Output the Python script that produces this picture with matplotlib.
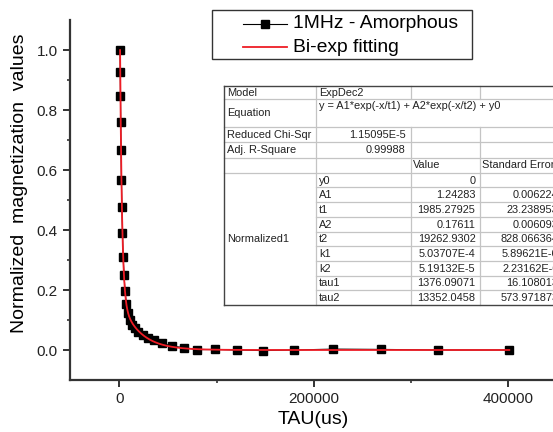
import numpy as np
import matplotlib
matplotlib.use("Agg")
import matplotlib.pyplot as plt
from matplotlib.patches import Rectangle

plt.rcParams['font.family'] = ['Liberation Sans', 'DejaVu Sans']

# ---- data ----
tau_us = [800, 980, 1190, 1460, 1780, 2170, 2650, 3240, 3960, 4840, 5910, 7220,
          8810, 10760, 13150, 16060, 19610, 23950, 29250, 35730, 43630, 53900,
          66500, 80200, 98700, 120700, 147500, 180000, 220000, 269000, 328000, 401000]
magnet = [1.000, 0.927, 0.847, 0.760, 0.666, 0.568, 0.477, 0.390, 0.310, 0.251,
          0.196, 0.155, 0.123, 0.100, 0.085, 0.072, 0.061, 0.050, 0.040, 0.032,
          0.023, 0.013, 0.008, 0.001, 0.002, 0.000, -0.002, 0.000, 0.003, 0.002,
          0.000, 0.000]

# fit parameters shown in the table
fit_y0, fit_A1, fit_t1, fit_A2, fit_t2 = 0.0, 1.24283, 1985.27925, 0.17611, 19262.9302

series_labels = ["1MHz - Amorphous", "Bi-exp fitting"]
x_ticks = [0, 200000, 400000]
y_ticks = [0.0, 0.2, 0.4, 0.6, 0.8, 1.0]

table_top = [("Model", "ExpDec2"),
             ("Equation", "y = A1*exp(-x/t1) + A2*exp(-x/t2) + y0"),
             ("Reduced Chi-Sqr", "1.15095E-5"),
             ("Adj. R-Square", "0.99988")]
param_names = ["y0", "A1", "t1", "A2", "t2", "k1", "k2", "tau1", "tau2"]
param_values = ["0", "1.24283", "1985.27925", "0.17611", "19262.9302",
                "5.03707E-4", "5.19132E-5", "1376.09071", "13352.0458"]
param_errors = ["0", "0.006224", "23.238953", "0.006093", "828.066364",
                "5.89621E-6", "2.23162E-6", "16.108013", "573.971873"]

# ---- figure ----
W, H = 553, 432
fig = plt.figure(figsize=(W / 100, H / 100), dpi=100)
ax = fig.add_axes([70 / W, 52 / H, 496 / W, 360 / H])

xf = np.linspace(min(tau_us), max(tau_us), 4000)
yf = fit_A1 * np.exp(-xf / fit_t1) + fit_A2 * np.exp(-xf / fit_t2) + fit_y0

ax.plot(tau_us, magnet, color='black', lw=0.8, marker='s', ms=6.3,
        mfc='black', mec='black', zorder=2)
ax.plot(xf, yf, color='#ee1c25', lw=1.3, zorder=3)

ax.set_xlim(-50700, 459300)
ax.set_ylim(-0.1, 1.1)
ax.set_xticks(x_ticks)
ax.set_xticklabels([str(v) for v in x_ticks])
ax.set_yticks(y_ticks)
ax.set_yticklabels([f"{v:.1f}" for v in y_ticks])
ax.set_xticks([100000, 300000], minor=True)
ax.set_yticks([0.1, 0.3, 0.5, 0.7, 0.9], minor=True)
for s in ['top', 'right']:
    ax.spines[s].set_visible(False)
for s in ['left', 'bottom']:
    ax.spines[s].set_linewidth(1.6)
    ax.spines[s].set_color('#333333')
ax.tick_params(which='major', direction='out', length=5, width=1.4,
               color='#333333', labelsize=11, labelcolor='#222222')
ax.tick_params(which='minor', direction='out', length=2.5, width=1.2, color='#333333')
ax.tick_params(axis='x', which='major', pad=3.5)
ax.tick_params(axis='y', which='major', pad=4)
ax.set_xlabel("TAU(us)", fontsize=14)
ax.set_ylabel("Normalized  magnetization  values", fontsize=14)
ax.xaxis.set_label_coords((313 - 70) / 496, -(411 - 380) / 360)
ax.yaxis.set_label_coords(-(70 - 28) / 496, (380 - 183.5) / 360)

# ---- overlay (pixel coords) for legend and table ----
ov = fig.add_axes([0, 0, 1, 1], zorder=5)
ov.set_xlim(0, W)
ov.set_ylim(H, 0)
ov.axis('off')
ov.patch.set_alpha(0)

# legend
ov.add_patch(Rectangle((212, 10), 260, 49, facecolor='white', edgecolor='#333333', lw=1))
ov.plot([243, 287], [24, 24], color='black', lw=0.8)
ov.plot([265], [24], marker='s', ms=6, color='black')
ov.plot([243, 287], [47, 47], color='#ee1c25', lw=1.3)
ov.text(293, 24, series_labels[0], fontsize=13.9, va='center', ha='left')
ov.text(293, 47, series_labels[1], fontsize=13.9, va='center', ha='left')

# table
c0, c1, c2, c3, c4 = 224, 316, 410.7, 480, 600
rows_top = [86, 99, 127, 142.3, 157.5, 172.7]
data_row_h = (305 - 172.7) / 9
data_rows = [172.7 + i * data_row_h for i in range(10)]
grid = '#c4c4c4'
fs = 7.9
ov.add_patch(Rectangle((c0, 86), c4 - c0, 305 - 86, facecolor='white', edgecolor='none'))

# horizontal lines
for y in rows_top[1:]:
    ov.plot([c0, c4], [y, y], color=grid, lw=0.9)
for y in data_rows[1:-1]:
    ov.plot([c1, c4], [y, y], color=grid, lw=0.9)
# vertical lines
ov.plot([c1, c1], [86, 305], color=grid, lw=0.9)
for cx in (c2, c3):
    ov.plot([cx, cx], [86, 99], color=grid, lw=0.9)
    ov.plot([cx, cx], [127, 305], color=grid, lw=0.9)
# outer border
ov.plot([c0, c4], [86, 86], color='#444444', lw=1.0)
ov.plot([c0, c4], [305, 305], color='#444444', lw=1.0)
ov.plot([c0, c0], [86, 305], color='#444444', lw=1.0)

tc = '#222222'
ov.text(c0 + 3, 92.5, table_top[0][0], fontsize=fs, va='center', color=tc)
ov.text(c1 + 3, 92.5, table_top[0][1], fontsize=fs, va='center', color=tc)
ov.text(c0 + 3, 113, table_top[1][0], fontsize=fs, va='center', color=tc)
ov.text(c1 + 3, 106, table_top[1][1], fontsize=fs, va='center', color=tc)
ov.text(c0 + 3, 134.5, table_top[2][0], fontsize=fs, va='center', color=tc)
ov.text(c2 - 5, 134.5, table_top[2][1], fontsize=fs, va='center', ha='right', color=tc)
ov.text(c0 + 3, 150, table_top[3][0], fontsize=fs, va='center', color=tc)
ov.text(c2 - 5, 150, table_top[3][1], fontsize=fs, va='center', ha='right', color=tc)
ov.text(c2 + 2, 165, "Value", fontsize=fs, va='center', color=tc)
ov.text(c3 + 2, 165, "Standard Error", fontsize=fs, va='center', color=tc)
ov.text(c0 + 3, 239, "Normalized1", fontsize=fs, va='center', color=tc)
for i, (n, v, e) in enumerate(zip(param_names, param_values, param_errors)):
    yc = data_rows[i] + data_row_h / 2 + 0.5
    ov.text(c1 + 3, yc, n, fontsize=fs, va='center', color=tc)
    ov.text(c3 - 4.5, yc, v, fontsize=fs, va='center', ha='right', color=tc)
    ov.text(c3 + 78.5, yc, e, fontsize=fs, va='center', ha='right', color=tc)

fig.savefig("out.png", dpi=100)
